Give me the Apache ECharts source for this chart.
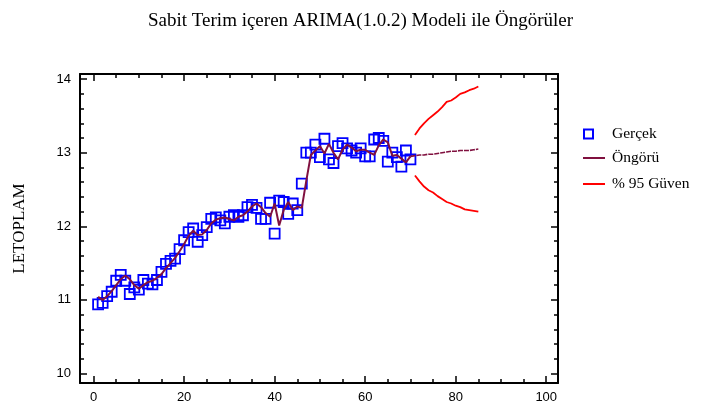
<!DOCTYPE html>
<html>
<head>
<meta charset="utf-8">
<script src="https://cdn.jsdelivr.net/npm/echarts@6/dist/echarts.min.js"></script>
<style>
html,body{margin:0;padding:0;background:#fff;}
#chart{width:713px;height:411px;}
</style>
</head>
<body>
<div id="chart"></div>
<script>
// Observed LETOPLAM series, periods 1..70
const actual = [
  10.94, 10.96, 11.05, 11.11, 11.26, 11.34, 11.26, 11.08, 11.17, 11.14,
  11.27, 11.22, 11.21, 11.27, 11.38, 11.49, 11.53, 11.56, 11.69, 11.81,
  11.92, 11.97, 11.79, 11.88, 11.99, 12.10, 12.12, 12.08, 12.04, 12.13,
  12.15, 12.13, 12.15, 12.26, 12.29, 12.25, 12.10, 12.10, 12.32, 11.90,
  12.35, 12.33, 12.17, 12.31, 12.22, 12.58, 13.00, 13.00, 13.11, 12.94,
  13.19, 12.91, 12.86, 13.09, 13.13, 13.06, 13.03, 13.00, 13.06, 12.95,
  12.95, 13.18, 13.20, 13.16, 12.88, 13.00, 12.94, 12.81, 13.03, 12.91
];

// One-step-ahead fitted values of the ARIMA(1,0,2) model, periods 1..70
const fitted = [
  11.04, 11.00, 11.05, 11.12, 11.20, 11.28, 11.33, 11.28, 11.20, 11.15,
  11.20, 11.24, 11.26, 11.30, 11.35, 11.43, 11.50, 11.57, 11.66, 11.76,
  11.87, 11.94, 11.88, 11.89, 11.95, 12.04, 12.09, 12.11, 12.12, 12.10,
  12.08, 12.13, 12.15, 12.20, 12.27, 12.31, 12.26, 12.18, 12.13, 12.31,
  12.01, 12.22, 12.33, 12.22, 12.27, 12.25, 12.62, 12.97, 13.03, 13.09,
  12.99, 13.12, 13.00, 12.91, 13.04, 13.11, 13.07, 13.02, 13.04, 13.04,
  13.00, 12.97, 13.10, 13.18, 13.14, 12.96, 12.97, 12.92, 12.87, 12.95
];

// Out-of-sample forecasts and 95% limits, periods 71..85
const forecast = [12.96, 12.97, 12.97, 12.98, 12.98, 12.99, 13.00, 13.01, 13.02, 13.02, 13.03, 13.03, 13.03, 13.04, 13.05];
const upper95  = [13.24, 13.33, 13.40, 13.46, 13.51, 13.56, 13.62, 13.69, 13.71, 13.75, 13.80, 13.82, 13.85, 13.87, 13.90];
const lower95  = [12.69, 12.61, 12.54, 12.49, 12.46, 12.41, 12.37, 12.33, 12.31, 12.28, 12.26, 12.23, 12.22, 12.21, 12.20];

const xMajor = [0, 20, 40, 60, 80, 100];
const xMinor = [0, 5, 10, 15, 20, 25, 30, 35, 40, 45, 50, 55, 60, 65, 70, 75, 80, 85, 90, 95, 100];
const yMajor = [10, 11, 12, 13, 14];
const yMinor = [10, 10.2, 10.4, 10.6, 10.8, 11, 11.2, 11.4, 11.6, 11.8, 12, 12.2, 12.4, 12.6, 12.8,
                13, 13.2, 13.4, 13.6, 13.8, 14];

const firstForecastPeriod = actual.length + 1;
const pairs = (arr, start) => arr.map((v, i) => [start + i, v]);

const actualPts   = pairs(actual, 1);
const fittedPts   = pairs(fitted, 1);
const forecastPts = [[actual.length, fitted[fitted.length - 1]]].concat(pairs(forecast, firstForecastPeriod));
const upperPts    = pairs(upper95, firstForecastPeriod);
const lowerPts    = pairs(lower95, firstForecastPeriod);

const X_MIN = -3, X_MAX = 102.6, Y_MIN = 9.87, Y_MAX = 14.07;
const tickFont = { fontFamily: 'Liberation Sans', fontSize: 13, color: '#000' };
const serif = 'Liberation Serif';

function xAxisDef(position, values, len, showLine, showLabel) {
  return {
    type: 'value', position, min: X_MIN, max: X_MAX,
    axisLine: { show: showLine, onZero: false, lineStyle: { color: '#000', width: 2 } },
    axisTick: { show: true, inside: true, length: len, customValues: values, lineStyle: { color: '#000', width: 1.5 } },
    axisLabel: showLabel ? Object.assign({ customValues: xMajor, margin: 8 }, tickFont) : { show: false },
    splitLine: { show: false }
  };
}
function yAxisDef(position, values, len, showLine, showLabel, withName) {
  const a = {
    type: 'value', position, min: Y_MIN, max: Y_MAX,
    axisLine: { show: showLine, onZero: false, lineStyle: { color: '#000', width: 2 } },
    axisTick: { show: true, inside: true, length: len, customValues: values, lineStyle: { color: '#000', width: 1.5 } },
    axisLabel: showLabel ? Object.assign({ customValues: yMajor, margin: 9 }, tickFont) : { show: false },
    splitLine: { show: false }
  };
  if (withName) {
    a.name = 'LETOPLAM';
    a.nameLocation = 'middle';
    a.nameRotate = 90;
    a.nameGap = 52;
    a.nameTextStyle = { fontFamily: serif, fontSize: 17, color: '#000' };
  }
  return a;
}

const chart = echarts.init(document.getElementById('chart'), null, { renderer: 'canvas' });
chart.setOption({
  animation: false,
  backgroundColor: '#fff',
  title: {
    text: 'Sabit Terim içeren ARIMA(1.0.2) Modeli ile Öngörüler',
    left: 143, top: 7,
    textStyle: { fontFamily: serif, fontSize: 19, fontWeight: 'normal', color: '#000' }
  },
  grid: { left: 80, right: 155, top: 74, bottom: 28, containLabel: false },
  xAxis: [
    xAxisDef('bottom', xMajor, 7, true, true),
    xAxisDef('bottom', xMinor, 4, false, false),
    xAxisDef('top', xMajor, 7, true, false),
    xAxisDef('top', xMinor, 4, false, false)
  ],
  yAxis: [
    yAxisDef('left', yMajor, 7, true, true, true),
    yAxisDef('left', yMinor, 4, false, false, false),
    yAxisDef('right', yMajor, 7, true, false, false),
    yAxisDef('right', yMinor, 4, false, false, false)
  ],
  legend: [
    {
      orient: 'vertical', left: 578, top: 121, itemWidth: 9, itemHeight: 9, itemGap: 12,
      data: [{ name: 'Gerçek', icon: 'rect' }],
      textStyle: { fontFamily: serif, fontSize: 15.5, color: '#000', padding: [0, 0, 0, 14] }
    },
    {
      orient: 'vertical', left: 578, top: 145, itemWidth: 22, itemHeight: 2, itemGap: 10,
      data: [{ name: 'Öngörü', icon: 'rect' }, { name: '% 95 Güven', icon: 'rect' }],
      textStyle: { fontFamily: serif, fontSize: 15.5, color: '#000', padding: [0, 0, 0, 2] }
    }
  ],
  series: [
    {
      name: 'Gerçek', type: 'scatter', data: actualPts, symbol: 'rect', symbolSize: 10, z: 2,
      itemStyle: { color: 'rgba(255,255,255,0)', borderColor: '#0000ff', borderWidth: 1.8, opacity: 1 }
    },
    {
      name: 'Öngörü', type: 'line', data: fittedPts, symbol: 'none', z: 3,
      lineStyle: { color: '#80103f', width: 2 }, itemStyle: { color: '#80103f' }
    },
    {
      name: 'Öngörü', type: 'line', data: forecastPts, symbol: 'none', z: 3,
      lineStyle: { color: '#80103f', width: 1.6, type: [5, 1] }, itemStyle: { color: '#80103f' }
    },
    {
      name: '% 95 Güven', type: 'line', data: upperPts, symbol: 'none', z: 3,
      lineStyle: { color: '#ff0000', width: 1.8 }, itemStyle: { color: '#ff0000' }
    },
    {
      name: '% 95 Güven', type: 'line', data: lowerPts, symbol: 'none', z: 3,
      lineStyle: { color: '#ff0000', width: 1.8 }, itemStyle: { color: '#ff0000' }
    }
  ]
});
</script>
</body>
</html>
